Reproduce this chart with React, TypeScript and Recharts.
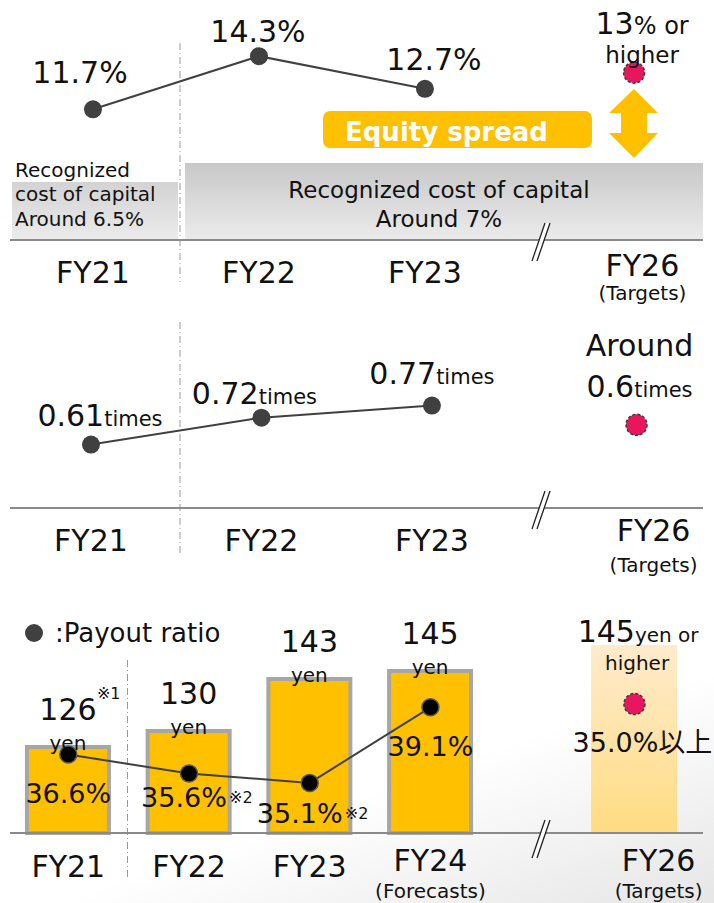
import React from "react";
import { ComposedChart, Line, Bar, XAxis, YAxis, LabelList } from "recharts";

const FONT = "'DejaVu Sans', 'Noto Sans CJK JP', sans-serif";
const DARK = "#404040";
const GOLD = "#FFC000";
const TARGET_RED = "#E8175D";
const TEXT = "#111";

// ROE
const roeValues = [11.7, 14.3, 12.7];
const roeTarget = 13;
const roeTicks = ["FY21", "FY22", "FY23", "FY26"];
const roeTickNotes = ["", "", "", "(Targets)"];

// PBR
const pbrValues = [0.61, 0.72, 0.77];
const pbrTarget = 0.6;
const pbrTicks = ["FY21", "FY22", "FY23", "FY26"];
const pbrTickNotes = ["", "", "", "(Targets)"];

// dividend per share (yen) and payout ratio (%)
const dpsValues = [126, 130, 143, 145];
const dpsTarget = 145;
const dpsNotes = ["※1", "", "", ""];
const payoutValues = [36.6, 35.6, 35.1, 39.1];
const payoutTarget = 35.0;
const payoutNotes = ["", "※2", "※2", ""];
const dpsTicks = ["FY21", "FY22", "FY23", "FY24", "FY26"];
const dpsTickNotes = ["", "", "", "(Forecasts)", "(Targets)"];

// x layout: the axis is broken before FY26, so the slots are not evenly spaced
const ROE_X = { pts: [0, 1, 2], target: 3.26, ticks: [0, 1, 2, 3.31], domain: [-0.5, 3.675] };
const PBR_X = { pts: [0, 1, 2], target: 3.2, ticks: [0, 1, 2, 3.3], domain: [-0.475, 3.59] };
const DPS_X = { pts: [0, 1, 2, 3], target: 4.69, ticks: [0, 1, 2, 3, 4.89], domain: [-0.483, 5.258] };

const roeRows = [
  ...roeValues.map((v, i) => ({ x: ROE_X.pts[i], roe: v })),
  { x: ROE_X.target, target: roeTarget },
];
const pbrRows = [
  ...pbrValues.map((v, i) => ({ x: PBR_X.pts[i], pbr: v })),
  { x: PBR_X.target, target: pbrTarget },
];
const dpsRows = [
  ...dpsValues.map((v, i) => ({ x: DPS_X.pts[i], dps: v, payout: payoutValues[i] })),
  { x: DPS_X.target, band: dpsTarget, target: payoutTarget },
];

const axisLine = { stroke: "#8a8a8a", strokeWidth: 2 };

function makeTick(ticks: number[], labels: string[], notes: string[], dy: { main: number; top: number; note: number }) {
  return (p: any) => {
    let i = p.index;
    if (i == null || labels[i] == null) i = ticks.indexOf(p.payload?.value);
    const note = notes[i];
    return (
      <g>
        <text x={p.x} y={p.y + (note ? dy.top : dy.main)} textAnchor="middle" fontSize={30} fontFamily={FONT} fill={TEXT}>
          {labels[i]}
        </text>
        {note ? (
          <text x={p.x} y={p.y + dy.note} textAnchor="middle" fontSize={20} fontFamily={FONT} fill={TEXT}>
            {note}
          </text>
        ) : null}
      </g>
    );
  };
}

const darkDot = (p: any) =>
  p.value == null || p.cy == null ? (
    <g key={`e${p.index}`} />
  ) : (
    <circle key={`d${p.index}`} cx={p.cx} cy={p.cy} r={9} fill={DARK} />
  );

const blackDot = (p: any) =>
  p.value == null || p.cy == null ? (
    <g key={`e${p.index}`} />
  ) : (
    <circle key={`d${p.index}`} cx={p.cx} cy={p.cy} r={8.5} fill="#000" stroke="#555" strokeWidth={1.5} />
  );

const targetDot = (p: any) =>
  p.value == null || p.cy == null ? (
    <g key={`e${p.index}`} />
  ) : (
    <circle
      key={`t${p.index}`}
      cx={p.cx}
      cy={p.cy}
      r={10.5}
      fill={TARGET_RED}
      stroke="#3a3a3a"
      strokeWidth={1.5}
      strokeDasharray="3 2"
    />
  );

const roeShift = [[-13, -26], [-1, -14], [9, -19]];
const RoeLabel = (p: any) => {
  if (p.value == null) return null;
  const [dx, dy] = roeShift[p.index] || [0, -20];
  return (
    <text x={p.x + dx} y={p.y + dy} textAnchor="middle" fontSize={30} fontFamily={FONT} fill={TEXT}>
      {Number(p.value).toFixed(1)}%
    </text>
  );
};

const RoeTargetLabel = (p: any) => {
  if (p.value == null) return null;
  return (
    <g fontFamily={FONT} fill={TEXT}>
      <text x={p.x + 8} y={p.y - 39} textAnchor="middle">
        <tspan fontSize={30}>{p.value}</tspan>
        <tspan fontSize={24}>% or</tspan>
      </text>
      <text x={p.x + 8} y={p.y - 10} textAnchor="middle" fontSize={23}>
        higher
      </text>
    </g>
  );
};

const pbrShift = [[9, -19], [-7, -14], [0, -22]];
const PbrLabel = (p: any) => {
  if (p.value == null) return null;
  const [dx, dy] = pbrShift[p.index] || [0, -20];
  return (
    <text x={p.x + dx} y={p.y + dy} textAnchor="middle" fontFamily={FONT} fill={TEXT}>
      <tspan fontSize={30}>{Number(p.value).toFixed(2)}</tspan>
      <tspan fontSize={21}>times</tspan>
    </text>
  );
};

const PbrTargetLabel = (p: any) => {
  if (p.value == null) return null;
  return (
    <g fontFamily={FONT} fill={TEXT}>
      <text x={p.x + 3} y={p.y - 69} textAnchor="middle" fontSize={30}>
        Around
      </text>
      <text x={p.x + 3} y={p.y - 28} textAnchor="middle">
        <tspan fontSize={30}>{p.value}</tspan>
        <tspan fontSize={21}>times</tspan>
      </text>
    </g>
  );
};

const DpsLabel = (p: any) => {
  if (p.value == null) return null;
  const cx = p.x + p.width / 2;
  const note = dpsNotes[p.index];
  return (
    <g fontFamily={FONT} fill={TEXT}>
      <text x={cx} y={p.y - 27} textAnchor="middle" fontSize={30}>
        {p.value}
      </text>
      <text x={cx} y={p.y + 3} textAnchor="middle" fontSize={20}>
        yen
      </text>
      {note ? (
        <text x={cx + 29} y={p.y - 48} fontSize={16}>
          {note}
        </text>
      ) : null}
    </g>
  );
};

const BandLabel = (p: any) => {
  if (p.value == null) return null;
  const cx = p.x + p.width / 2;
  return (
    <g fontFamily={FONT} fill={TEXT}>
      <text x={cx + 4} y={p.y - 3} textAnchor="middle">
        <tspan fontSize={30}>{p.value}</tspan>
        <tspan fontSize={20}>yen or</tspan>
      </text>
      <text x={cx + 3} y={p.y + 25} textAnchor="middle" fontSize={20}>
        higher
      </text>
    </g>
  );
};

const payoutShift = [[0, 48], [-5, 34], [-10, 40], [0, 49]];
const PayoutLabel = (p: any) => {
  if (p.value == null) return null;
  const [dx, dy] = payoutShift[p.index] || [0, 40];
  const note = payoutNotes[p.index];
  return (
    <g fontFamily={FONT} fill={TEXT}>
      <text x={p.x + dx} y={p.y + dy} textAnchor="middle" fontSize={27}>
        {Number(p.value).toFixed(1)}%
      </text>
      {note ? (
        <text x={p.x + dx + 45} y={p.y + dy - 4} fontSize={16}>
          {note}
        </text>
      ) : null}
    </g>
  );
};

const PayoutTargetLabel = (p: any) => {
  if (p.value == null) return null;
  return (
    <text x={p.x + 8} y={p.y + 48} textAnchor="middle" fontSize={27} fontFamily={FONT} fill={TEXT}>
      {Number(p.value).toFixed(1)}%以上
    </text>
  );
};

function Backdrop() {
  const divider = { stroke: "#9a9a9a", strokeWidth: 1, strokeDasharray: "7 3 1 3" };
  return (
    <svg width={714} height={903} style={{ position: "absolute", left: 0, top: 0 }}>
      <defs>
        <linearGradient id="cocGrad" x1="0" y1="0" x2="0" y2="1">
          <stop offset="0" stopColor="#C8C8C8" />
          <stop offset="1" stopColor="#EBEBEB" />
        </linearGradient>
        <linearGradient id="cocGradL" x1="0" y1="0" x2="0" y2="1">
          <stop offset="0" stopColor="#D3D3D3" />
          <stop offset="1" stopColor="#EBEBEB" />
        </linearGradient>
        <linearGradient id="bgGrad" x1="0.2" y1="0" x2="1" y2="1">
          <stop offset="0" stopColor="#FFFFFF" />
          <stop offset="0.55" stopColor="#FFFFFF" />
          <stop offset="1" stopColor="#E6E6E6" />
        </linearGradient>
      </defs>
      <rect x={0} y={0} width={714} height={903} fill="#fff" />
      <rect x={0} y={590} width={714} height={313} fill="url(#bgGrad)" />

      {/* cost of capital bands */}
      <rect x={12} y={182} width={166} height={57} fill="url(#cocGradL)" />
      <rect x={185} y={163} width={518} height={76} fill="url(#cocGrad)" />
      <g fontFamily={FONT} fill={TEXT} fontSize={20}>
        <text x={15} y={177}>Recognized</text>
        <text x={15} y={201}>cost of capital</text>
        <text x={15} y={226}>Around 6.5%</text>
      </g>
      <g fontFamily={FONT} fill={TEXT} fontSize={23} textAnchor="middle">
        <text x={439} y={198}>Recognized cost of capital</text>
        <text x={439} y={227}>Around 7%</text>
      </g>

      {/* equity spread */}
      <rect x={323} y={111} width={269} height={37} rx={7} fill={GOLD} />
      <text x={345} y={141} fontFamily={FONT} fontWeight="bold" fontSize={26} fill="#fff">
        Equity spread
      </text>
      <polygon
        points="634,89 658,113 647,113 647,133 658,133 634,158 609,133 621,133 621,113 609,113"
        fill={GOLD}
      />

      {/* period dividers */}
      <line x1={180} y1={43} x2={180} y2={282} {...divider} />
      <line x1={180} y1={322} x2={180} y2={555} {...divider} />
      <line x1={127.5} y1={660} x2={127.5} y2={877} {...divider} />

      {/* legend */}
      <circle cx={34} cy={633} r={9} fill={DARK} />
      <text x={55} y={642} fontFamily={FONT} fontSize={26} fill={TEXT}>
        :Payout ratio
      </text>
    </svg>
  );
}

function AxisBreak({ y }: { y: number }) {
  return (
    <g>
      <polygon points={`532,${y + 20} 545,${y - 18} 550,${y - 18} 537,${y + 20}`} fill="#fff" />
      <line x1={532} y1={y + 20} x2={545} y2={y - 18} stroke="#222" strokeWidth={1.3} />
      <line x1={537} y1={y + 20} x2={550} y2={y - 18} stroke="#222" strokeWidth={1.3} />
    </g>
  );
}

export default function App() {
  return (
    <div style={{ position: "absolute", left: 0, top: 0, width: 714, height: 903, background: "#fff", fontFamily: FONT }}>
      <Backdrop />

      {/* ROE */}
      <div style={{ position: "absolute", left: 0, top: 0 }}>
        <ComposedChart width={714} height={306} data={roeRows} margin={{ top: 1, right: 11, bottom: 6, left: 10 }}>
          <XAxis
            dataKey="x"
            type="number"
            domain={ROE_X.domain}
            ticks={ROE_X.ticks}
            interval={0}
            height={60}
            tickSize={0}
            tickMargin={0}
            tickLine={false}
            axisLine={axisLine}
            tick={makeTick(ROE_X.ticks, roeTicks, roeTickNotes, { main: 43, top: 36, note: 60 })}
          />
          <YAxis hide domain={[5.3, 17]} />
          <YAxis hide yAxisId="t" domain={[5.3, 16.3]} />
          <Line dataKey="roe" stroke={DARK} strokeWidth={2} dot={darkDot} activeDot={false} isAnimationActive={false}>
            <LabelList dataKey="roe" content={RoeLabel} />
          </Line>
          <Line dataKey="target" yAxisId="t" stroke="none" dot={targetDot} activeDot={false} isAnimationActive={false}>
            <LabelList dataKey="target" content={RoeTargetLabel} />
          </Line>
        </ComposedChart>
      </div>

      {/* PBR */}
      <div style={{ position: "absolute", left: 0, top: 300 }}>
        <ComposedChart width={714} height={280} data={pbrRows} margin={{ top: 25, right: 11, bottom: 12, left: 10 }}>
          <XAxis
            dataKey="x"
            type="number"
            domain={PBR_X.domain}
            ticks={PBR_X.ticks}
            interval={0}
            height={60}
            tickSize={0}
            tickMargin={0}
            tickLine={false}
            axisLine={axisLine}
            tick={makeTick(PBR_X.ticks, pbrTicks, pbrTickNotes, { main: 43, top: 33, note: 64 })}
          />
          <YAxis hide domain={[0.35, 1.1]} />
          <YAxis hide yAxisId="t" domain={[0.35, 0.9]} />
          <Line dataKey="pbr" stroke={DARK} strokeWidth={2} dot={darkDot} activeDot={false} isAnimationActive={false}>
            <LabelList dataKey="pbr" content={PbrLabel} />
          </Line>
          <Line dataKey="target" yAxisId="t" stroke="none" dot={targetDot} activeDot={false} isAnimationActive={false}>
            <LabelList dataKey="target" content={PbrTargetLabel} />
          </Line>
        </ComposedChart>
      </div>

      {/* Dividends */}
      <div style={{ position: "absolute", left: 0, top: 590 }}>
        <ComposedChart width={714} height={313} data={dpsRows} margin={{ top: 19, right: 11, bottom: 10, left: 10 }}>
          <defs>
            <linearGradient id="bandGrad" x1="0" y1="0" x2="0" y2="1">
              <stop offset="0" stopColor="#FFEBCC" />
              <stop offset="1" stopColor="#FFDC82" />
            </linearGradient>
          </defs>
          <XAxis
            dataKey="x"
            type="number"
            domain={DPS_X.domain}
            ticks={DPS_X.ticks}
            interval={0}
            height={60}
            tickSize={0}
            tickMargin={0}
            tickLine={false}
            axisLine={axisLine}
            tick={makeTick(DPS_X.ticks, dpsTicks, dpsTickNotes, { main: 44, top: 38, note: 65 })}
          />
          <XAxis hide xAxisId="t" dataKey="x" type="number" domain={DPS_X.domain} />
          <YAxis hide yAxisId="dps" domain={[104.5, 160.5]} />
          <YAxis hide yAxisId="band" domain={[104.5, 152.75]} />
          <YAxis hide yAxisId="pay" domain={[32.45, 44.3]} />
          <YAxis hide yAxisId="tpay" domain={[32.45, 36.88]} />
          <Bar dataKey="band" xAxisId="t" yAxisId="band" barSize={86} fill="url(#bandGrad)" isAnimationActive={false}>
            <LabelList dataKey="band" content={BandLabel} />
          </Bar>
          <Bar
            dataKey="dps"
            yAxisId="dps"
            barSize={82}
            fill={GOLD}
            stroke="#A6A6A6"
            strokeWidth={4}
            isAnimationActive={false}
          >
            <LabelList dataKey="dps" content={DpsLabel} />
          </Bar>
          <Line dataKey="payout" yAxisId="pay" stroke={DARK} strokeWidth={2} dot={blackDot} activeDot={false} isAnimationActive={false}>
            <LabelList dataKey="payout" content={PayoutLabel} />
          </Line>
          <Line dataKey="target" yAxisId="tpay" stroke="none" dot={targetDot} activeDot={false} isAnimationActive={false}>
            <LabelList dataKey="target" content={PayoutTargetLabel} />
          </Line>
        </ComposedChart>
      </div>

      <svg width={714} height={903} style={{ position: "absolute", left: 0, top: 0, pointerEvents: "none" }}>
        <AxisBreak y={241} />
        <AxisBreak y={509} />
        <AxisBreak y={838} />
      </svg>
    </div>
  );
}
